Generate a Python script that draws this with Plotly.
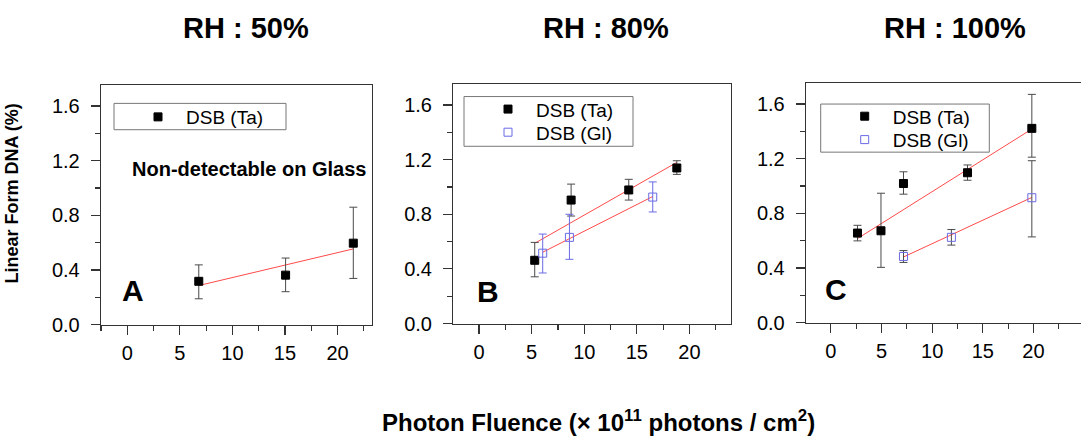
import plotly.graph_objects as go

W, H = 1081, 445
FONT = "Liberation Sans, Arial, sans-serif"

# ---------------- data ----------------
# Panel A (RH 50%)
a_ta_x = [6.8, 15.06, 21.5]
a_ta_y = [0.318, 0.363, 0.597]
a_ta_ep = [0.12, 0.125, 0.263]
a_ta_em = [0.128, 0.121, 0.258]
a_fit_ta_x = [6.8, 21.5]
a_fit_ta_y = [0.287, 0.555]

# Panel B (RH 80%)
b_ta_x = [5.29, 8.75, 14.23, 18.8]
b_ta_y = [0.463, 0.904, 0.978, 1.139]
b_ta_ep = [0.131, 0.117, 0.078, 0.053]
b_ta_em = [0.121, 0.117, 0.074, 0.047]
b_gl_x = [6.05, 8.59, 16.51]
b_gl_y = [0.515, 0.631, 0.926]
b_gl_ep = [0.14, 0.169, 0.111]
b_gl_em = [0.145, 0.161, 0.109]
b_fit_ta_x = [5.35, 18.8]
b_fit_ta_y = [0.59, 1.18]
b_fit_gl_x = [6.05, 16.51]
b_fit_gl_y = [0.522, 0.93]

# Panel C (RH 100%)
c_ta_x = [2.63, 4.95, 7.17, 13.49, 19.84]
c_ta_y = [0.655, 0.672, 1.018, 1.097, 1.422]
c_ta_ep = [0.057, 0.275, 0.086, 0.057, 0.249]
c_ta_em = [0.057, 0.268, 0.078, 0.055, 0.211]
c_gl_x = [7.17, 11.9, 19.84]
c_gl_y = [0.484, 0.624, 0.914]
c_gl_ep = [0.043, 0.057, 0.271]
c_gl_em = [0.044, 0.057, 0.287]
c_fit_ta_x = [2.63, 19.84]
c_fit_ta_y = [0.615, 1.417]
c_fit_gl_x = [7.17, 19.84]
c_fit_gl_y = [0.48, 0.916]

titles = ["RH : 50%", "RH : 80%", "RH : 100%"]
letters = ["A", "B", "C"]
y_ticks = [0.0, 0.4, 0.8, 1.2, 1.6]
x_ticks = [0, 5, 10, 15, 20]

# ---------------- styles ----------------
BLACK = "#000000"
ERR = "#4a4a4a"
BLUE = "#6a6ae6"
RED = "#ff4a4a"
AX = "#333333"

fig = go.Figure()

def px_x(p):
    return p / W

def px_y(p):
    return 1 - p / H

panels = [
    # (xdom px, ydom px (top,bottom), xrange)
    ((101, 371.7), (87, 333), [-2.5, 23.25]),
    ((453.3, 731), (86, 331.7), [-2.45, 23.95]),
    ((806, W + 10), (85, 330.7), [-2.45, -2.45 + (W + 10 - 806) / 10.5]),
]

def add_points(i, x, y, ep, em, name, sym, col, ecol, legend):
    xa = "x" if i == 0 else f"x{i+1}"
    ya = "y" if i == 0 else f"y{i+1}"
    fig.add_trace(go.Scatter(
        x=x, y=y, mode="markers", name=name, xaxis=xa, yaxis=ya,
        legend=legend, showlegend=True,
        marker=dict(symbol=sym, size=8, color=col, line=dict(color=col, width=1)),
        error_y=dict(type="data", array=ep, arrayminus=em, symmetric=False,
                     color=ecol, thickness=1, width=4),
    ))

def add_fit(i, x, y):
    xa = "x" if i == 0 else f"x{i+1}"
    ya = "y" if i == 0 else f"y{i+1}"
    fig.add_trace(go.Scatter(x=x, y=y, mode="lines", xaxis=xa, yaxis=ya,
                             line=dict(color=RED, width=1), showlegend=False,
                             hoverinfo="skip"))

# Panel A
add_fit(0, a_fit_ta_x, a_fit_ta_y)
add_points(0, a_ta_x, a_ta_y, a_ta_ep, a_ta_em, "DSB (Ta)", "square", BLACK, ERR, "legend")
# Panel B
add_fit(1, b_fit_ta_x, b_fit_ta_y)
add_fit(1, b_fit_gl_x, b_fit_gl_y)
add_points(1, b_ta_x, b_ta_y, b_ta_ep, b_ta_em, "DSB (Ta)", "square", BLACK, ERR, "legend2")
add_points(1, b_gl_x, b_gl_y, b_gl_ep, b_gl_em, "DSB (Gl)", "square-open", BLUE, BLUE, "legend3")
# Panel C
add_fit(2, c_fit_ta_x, c_fit_ta_y)
add_fit(2, c_fit_gl_x, c_fit_gl_y)
add_points(2, c_ta_x, c_ta_y, c_ta_ep, c_ta_em, "DSB (Ta)", "square", BLACK, ERR, "legend4")
add_points(2, c_gl_x, c_gl_y, c_gl_ep, c_gl_em, "DSB (Gl)", "square-open", BLUE, ERR, "legend5")

layout = dict(
    width=W, height=H,
    margin=dict(l=0, r=0, t=0, b=0),
    paper_bgcolor="white", plot_bgcolor="white",
    font=dict(family=FONT, color="black"),
    hovermode=False,
)

for i, ((x0, x1), (yt, yb), xr) in enumerate(panels):
    sx = "" if i == 0 else str(i + 1)
    layout[f"xaxis{sx}"] = dict(
        domain=[px_x(x0), min(1.0, px_x(x1))], range=xr, anchor=f"y{sx}",
        tickvals=x_ticks, ticks="outside", ticklen=9, tickwidth=1.2, tickcolor=AX,
        minor=dict(tickvals=[-2.5, 2.5, 7.5, 12.5, 17.5, 22.5], ticks="outside",
                   ticklen=5, tickwidth=1.2, tickcolor=AX),
        showline=True, linecolor=AX, linewidth=1.3, mirror=True,
        showgrid=False, zeroline=False,
        tickfont=dict(size=20, family=FONT, color="black"),
        ticklabelstandoff=1,
    )
    layout[f"yaxis{sx}"] = dict(
        domain=[px_y(yb), px_y(yt)], range=[0, 1.755], anchor=f"x{sx}",
        tickvals=y_ticks, ticktext=[f"{v:.1f}" for v in y_ticks],
        ticks="outside", ticklen=9, tickwidth=1.2, tickcolor=AX,
        minor=dict(tickvals=[0.2, 0.6, 1.0, 1.4], ticks="outside",
                   ticklen=5, tickwidth=1.2, tickcolor=AX),
        showline=True, linecolor=AX, linewidth=1.3, mirror=(i < 2),
        showgrid=False, zeroline=False,
        tickfont=dict(size=20, family=FONT, color="black"),
        ticklabelstandoff=7,
    )

# Legends: one entry per legend, positioned row by row; frames drawn as shapes
leg_common = dict(bgcolor="rgba(255,255,255,0)", borderwidth=0,
                  font=dict(size=19, family=FONT, color="black"),
                  xanchor="left", yanchor="middle", itemwidth=46)
LEG_SHIFT = 16
legend_rows = {
    "legend": (114, 120),
    "legend2": (464, 112),
    "legend3": (464, 135.7),
    "legend4": (820.7, 119.3),
    "legend5": (820.7, 143.3),
}
for key, (lx, ly) in legend_rows.items():
    layout[key] = dict(x=px_x(lx + LEG_SHIFT), y=px_y(ly), **leg_common)

legend_frames = [(114, 106, 286, 133), (464, 99, 633, 150), (820.7, 106.7, 989.3, 156)]
layout["shapes"] = [
    dict(type="rect", xref="paper", yref="paper",
         x0=px_x(x0), x1=px_x(x1), y0=px_y(y1), y1=px_y(y0),
         line=dict(color="#777777", width=1), fillcolor="rgba(0,0,0,0)", layer="above")
    for (x0, y0, x1, y1) in legend_frames
]

ann = []
for t, cx in zip(titles, [245.5, 606, 955]):
    ann.append(dict(text=f"<b>{t}</b>", x=px_x(cx), y=px_y(29), xref="paper", yref="paper",
                    showarrow=False, xanchor="center", yanchor="middle",
                    font=dict(size=29, family=FONT, color="black")))
for t, (cx, cy) in zip(letters, [(133, 297.5), (487.5, 298.5), (836, 297)]):
    ann.append(dict(text=f"<b>{t}</b>", x=px_x(cx), y=px_y(cy), xref="paper", yref="paper",
                    showarrow=False, xanchor="center", yanchor="middle",
                    font=dict(size=30, family=FONT, color="black")))
ann.append(dict(text="<b>Non-detectable on Glass</b>", x=px_x(249), y=px_y(173),
                xref="paper", yref="paper", showarrow=False, xanchor="center", yanchor="middle",
                font=dict(size=20, family=FONT, color="black")))
ann.append(dict(text="<b>Linear Form DNA (%)</b>", x=px_x(12), y=px_y(198.5),
                xref="paper", yref="paper", showarrow=False, textangle=-90,
                xanchor="center", yanchor="middle",
                font=dict(size=18, family=FONT, color="black")))
ann.append(dict(text="<b>Photon Fluence (\u00d7 10<sup>11</sup> photons / cm<sup>2</sup>)</b>",
                x=px_x(598), y=px_y(432), xref="paper", yref="paper", showarrow=False,
                xanchor="center", yanchor="middle",
                font=dict(size=24, family=FONT, color="black")))
layout["annotations"] = ann

fig.update_layout(**layout)
fig.write_html("out.html", config={"displayModeBar": False, "staticPlot": True},
               post_script="document.body.style.margin='0';document.body.style.padding='0';")
